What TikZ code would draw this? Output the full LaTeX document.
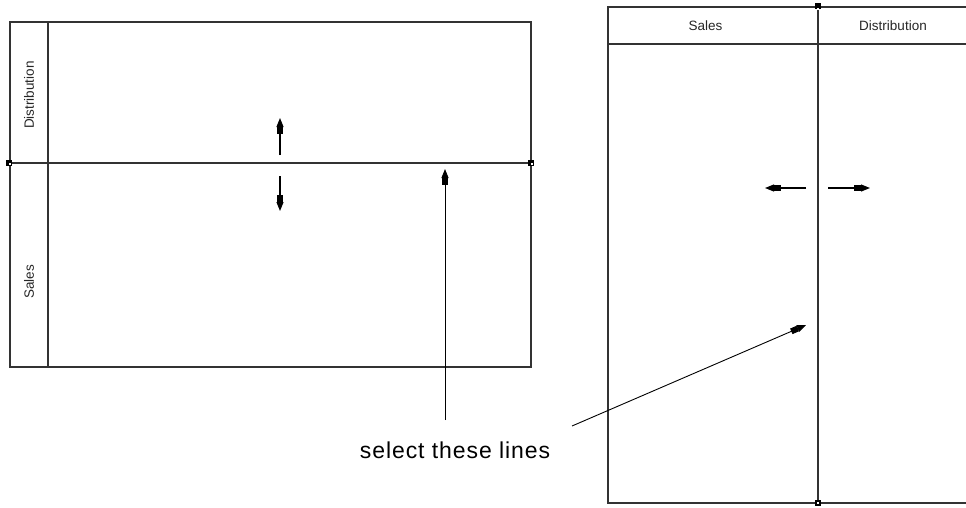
\documentclass[tikz,border=0pt]{standalone}
\usepackage{fontspec}
\setmainfont{Liberation Sans}
\usetikzlibrary{arrows.meta}
\begin{document}
\begin{tikzpicture}[x=1pt,y=-1pt,
  frame/.style={draw=black!80,line width=1.5pt},
  lbl/.style={font=\fontsize{13.5}{15}\selectfont,inner sep=0pt,text=black!85},
  ptr/.style={draw=black,line width=1.1pt,
    -{Rectangle[length=7pt,width=6pt,sep=0pt]Triangle[length=9pt,width=7pt]}},
  handle/.style={fill=black,minimum size=6.5pt,inner sep=0pt,draw=none}]
\useasboundingbox (0,0) rectangle (966,507);
\clip (0,0) rectangle (966,507);
% left pool
\coordinate (L1) at (10,22);
\coordinate (L2) at (531,367);
\draw[frame] (L1) rectangle (L2);
\draw[frame] (48,22) -- (48,367);
\coordinate (hl) at (9,163);
\coordinate (hr) at (531,163);
\draw[frame] (hl) -- (hr);
\node[lbl,rotate=90] (ldist) at (29,95) {Distribution};
\node[lbl,rotate=90] (lsales) at (29,282) {Sales};
\node[handle] (h1) at (hl) {};
\node[handle] (h2) at (hr) {};
\fill[white] (8.5,162.5) rectangle (10.5,164.5);
\fill[white] (530.5,162.5) rectangle (532.5,164.5);
% left arrows
\coordinate (ua0) at (280,155); \coordinate (ua1) at (280,118);
\coordinate (da0) at (280,176); \coordinate (da1) at (280,211);
\draw[ptr] (ua0) -- (ua1);
\draw[ptr] (da0) -- (da1);
% right pool
\coordinate (R1) at (608,7);
\coordinate (R2) at (975,503);
\draw[frame] (R1) rectangle (R2);
\draw[frame] (608,44) -- (975,44);
\coordinate (vt) at (818,7);
\coordinate (vb) at (818,503);
\draw[frame] (vt) -- (vb);
\node[lbl] (rsales) at (705.5,26) {Sales};
\node[lbl] (rdist) at (893,26) {Distribution};
\node[handle] (h3) at (818,6) {};
\node[handle] (h4) at (818,503) {};
\fill[white] (817,7.5) rectangle (819,9.5);
\fill[white] (817,502) rectangle (819,504);
% right arrows
\coordinate (la0) at (806,188); \coordinate (la1) at (765,188);
\coordinate (ra0) at (828,188); \coordinate (ra1) at (870,188);
\draw[ptr] (la0) -- (la1);
\draw[ptr] (ra0) -- (ra1);
% callout
\node[font=\fontsize{23}{27}\selectfont\addfontfeature{LetterSpace=4},inner sep=0pt,anchor=base] (txt) at (455,458) {select these lines};
\coordinate (c1) at (445,420); \coordinate (c1t) at (445,169);
\coordinate (c2) at (572,426); \coordinate (c2t) at (806,325);
\draw[ptr,line width=0.9pt] (c1) -- (c1t);
\draw[ptr,line width=0.9pt] (c2) -- (c2t);
\end{tikzpicture}
\end{document}
